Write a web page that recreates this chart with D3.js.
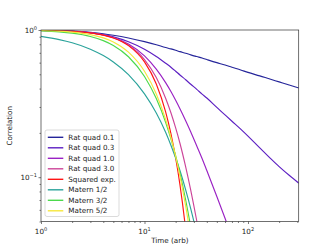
<!DOCTYPE html>
<html>
<head>
<meta charset="utf-8">
<script src="https://cdn.jsdelivr.net/npm/d3@7"></script>
<style>
  body { margin: 0; background: #fff; }
  svg { display: block; font-family: "DejaVu Sans", sans-serif; }
</style>
</head>
<body>
<div id="chart"></div>
<script>
//time samples (shared x values)
let times = [1, 1.5, 2, 3, 4, 5, 7, 10, 13, 16, 18, 20, 22, 25, 28, 32, 36, 40, 50, 60, 70, 85, 100, 130, 160, 200, 250, 310];

//correlation values, one array per kernel
let ratQuad01 = [0.995, 0.989, 0.982, 0.9635, 0.943, 0.921, 0.882, 0.833, 0.794, 0.76, 0.744, 0.728, 0.713, 0.695, 0.678, 0.66, 0.645, 0.63, 0.60, 0.578, 0.558, 0.535, 0.515, 0.488, 0.466, 0.444, 0.423, 0.404];
let ratQuad03 = [0.995, 0.989, 0.981, 0.958, 0.930, 0.898, 0.832, 0.740, 0.661, 0.595, 0.559, 0.525, 0.495, 0.459, 0.428, 0.395, 0.367, 0.345, 0.298, 0.265, 0.24, 0.212, 0.19, 0.158, 0.137, 0.118, 0.103, 0.091];
let ratQuad10 = [0.995, 0.989, 0.980, 0.957, 0.926, 0.889, 0.803, 0.667, 0.542, 0.439, 0.382, 0.333, 0.292, 0.242, 0.203, 0.163, 0.134, 0.111, 0.074, 0.0526, 0.0392, 0.0269];
let ratQuad30 = [0.995, 0.989, 0.980, 0.956, 0.924, 0.885, 0.790, 0.630, 0.475, 0.344, 0.274, 0.216, 0.170, 0.1175, 0.0815, 0.0504, 0.0317, 0.0203];
let squaredExp = [0.995, 0.989, 0.980, 0.956, 0.923, 0.882, 0.783, 0.607, 0.430, 0.278, 0.198, 0.135, 0.089, 0.044, 0.0198];
let matern12 = [0.905, 0.861, 0.819, 0.741, 0.670, 0.607, 0.497, 0.368, 0.273, 0.202, 0.165, 0.135, 0.111, 0.082, 0.061, 0.041, 0.027];
let matern32 = [0.987, 0.972, 0.952, 0.904, 0.847, 0.785, 0.658, 0.483, 0.342, 0.236, 0.182, 0.140, 0.1065, 0.070, 0.0458, 0.0256, 0.0142];
let matern52 = [0.992, 0.982, 0.968, 0.931, 0.8835, 0.829, 0.707, 0.524, 0.3675, 0.247, 0.186, 0.1386, 0.102, 0.0635, 0.0388, 0.0197];

let names = ["Rat quad 0.1", "Rat quad 0.3", "Rat quad 1.0", "Rat quad 3.0", "Squared exp.", "Matern 1/2", "Matern 3/2", "Matern 5/2"];
let colors = ["#25259a", "#5c1fc2", "#9a22c4", "#cc4499", "#ff1414", "#2ba39b", "#4cd94c", "#f7e73c"];
let valueArrays = [ratQuad01, ratQuad03, ratQuad10, ratQuad30, squaredExp, matern12, matern32, matern52];

//tick values
let xMajor = [1, 10, 100];
let xMinor = [2, 3, 4, 5, 6, 7, 8, 9, 20, 30, 40, 50, 60, 70, 80, 90, 200, 300];
let yMajor = [1, 0.1];
let yMinor = [0.05, 0.06, 0.07, 0.08, 0.09, 0.2, 0.3, 0.4, 0.5, 0.6, 0.7, 0.8, 0.9];

let width = 332, height = 249;
let margin = {left: 41, right: 33.3, top: 30, bottom: 27.5};
let fs = 7.2;

let svg = d3.select("#chart")
    .append("svg")
    .attr("width", width)
    .attr("height", height);

let x = d3.scaleLog()
    .domain([1, 309])
    .range([margin.left, width - margin.right]);

let y = d3.scaleLog()
    .domain([0.05, 1])
    .range([height - margin.bottom, margin.top]);

//clip lines to plot area
svg.append("clipPath")
    .attr("id", "plotclip")
    .append("rect")
    .attr("x", x.range()[0])
    .attr("y", y.range()[1])
    .attr("width", x.range()[1] - x.range()[0])
    .attr("height", y.range()[0] - y.range()[1]);

let series = names.map(function(n, i) {
    return {
        name: n,
        color: colors[i],
        points: valueArrays[i].map(function(v, j) { return {t: times[j], v: v}; })
    };
});

let line = d3.line()
    .x(function(d) { return x(d.t); })
    .y(function(d) { return y(d.v); })
    .curve(d3.curveMonotoneX);

svg.append("g")
    .attr("clip-path", "url(#plotclip)")
    .selectAll("path")
    .data(series)
    .enter()
    .append("path")
    .attr("fill", "none")
    .attr("stroke", function(d) { return d.color; })
    .attr("stroke-width", 1.15)
    .attr("d", function(d) { return line(d.points); });

//x axis
let xAxisG = svg.append("g")
    .attr("transform", `translate(0,${y.range()[0]})`);
xAxisG.call(d3.axisBottom(x).tickValues(xMajor).tickSize(2.5).tickFormat(""));
xAxisG.append("g").call(d3.axisBottom(x).tickValues(xMinor).tickSize(1.5).tickFormat(""));
xAxisG.selectAll(".domain").remove();
xAxisG.selectAll("line").attr("stroke", "#222").attr("stroke-width", 0.6);

xMajor.forEach(function(v) {
    let t = svg.append("text")
        .attr("x", x(v))
        .attr("y", y.range()[0] + 12.5)
        .attr("text-anchor", "middle")
        .style("font-size", fs + "px")
        .attr("fill", "#222");
    t.append("tspan").text("10");
    t.append("tspan").attr("dy", -3).style("font-size", (fs * 0.7) + "px")
        .text(String(Math.round(Math.log10(v))).replace("-", "\u2212"));
});

//y axis
let yAxisG = svg.append("g")
    .attr("transform", `translate(${x.range()[0]},0)`);
yAxisG.call(d3.axisLeft(y).tickValues(yMajor).tickSize(2.5).tickFormat(""));
yAxisG.append("g").call(d3.axisLeft(y).tickValues(yMinor).tickSize(1.5).tickFormat(""));
yAxisG.selectAll(".domain").remove();
yAxisG.selectAll("line").attr("stroke", "#222").attr("stroke-width", 0.6);

yMajor.forEach(function(v) {
    let t = svg.append("text")
        .attr("x", x.range()[0] - 4)
        .attr("y", y(v) + 2.5)
        .attr("text-anchor", "end")
        .style("font-size", fs + "px")
        .attr("fill", "#222");
    t.append("tspan").text("10");
    t.append("tspan").attr("dy", -3).style("font-size", (fs * 0.7) + "px")
        .text(String(Math.round(Math.log10(v))).replace("-", "\u2212"));
});

//frame
svg.append("rect")
    .attr("x", x.range()[0])
    .attr("y", y.range()[1])
    .attr("width", x.range()[1] - x.range()[0])
    .attr("height", y.range()[0] - y.range()[1])
    .attr("fill", "none")
    .attr("stroke", "#333")
    .attr("stroke-width", 0.7);

//axis labels
svg.append("text")
    .attr("x", (x.range()[0] + x.range()[1]) / 2)
    .attr("y", height - 6)
    .attr("text-anchor", "middle")
    .style("font-size", fs + "px")
    .attr("fill", "#222")
    .text("Time (arb)");

svg.append("text")
    .attr("transform", `translate(12,${(y.range()[0] + y.range()[1]) / 2}) rotate(-90)`)
    .attr("text-anchor", "middle")
    .style("font-size", fs + "px")
    .attr("fill", "#222")
    .text("Correlation");

//legend
let legend = svg.append("g").attr("transform", "translate(45,130)");
legend.append("rect")
    .attr("width", 74)
    .attr("height", 86.5)
    .attr("rx", 2)
    .attr("fill", "#fff")
    .attr("fill-opacity", 0.8)
    .attr("stroke", "#ccc")
    .attr("stroke-width", 0.7);

let rows = legend.selectAll("g.row")
    .data(series)
    .enter()
    .append("g")
    .attr("class", "row")
    .attr("transform", function(d, i) { return `translate(0,${7.3 + i * 10.5})`; });

rows.append("line")
    .attr("x1", 2.8)
    .attr("x2", 18.3)
    .attr("stroke", function(d) { return d.color; })
    .attr("stroke-width", 1.4);

rows.append("text")
    .attr("x", 23.3)
    .attr("y", 2.6)
    .style("font-size", fs + "px")
    .attr("fill", "#222")
    .text(function(d) { return d.name; });
</script>
</body>
</html>
